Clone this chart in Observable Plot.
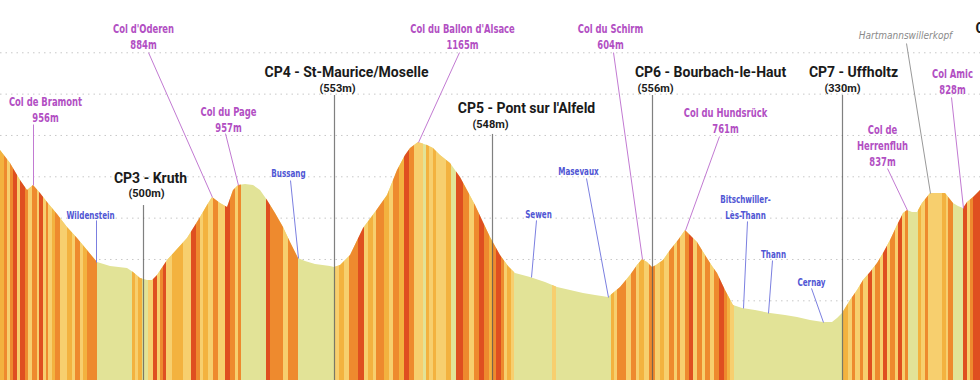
<!DOCTYPE html>
<html><head><meta charset="utf-8">
<script src="https://cdn.jsdelivr.net/npm/d3@7"></script>
<script src="https://cdn.jsdelivr.net/npm/@observablehq/plot@0.6"></script>
<style>body{margin:0;background:#fff} svg{display:block}</style>
</head><body><div id="chart"></div>
<script>
// ---- profile (distance km, elevation m) ----
const distKm = [0,1,2,2.7,3.3,4,4.7,5.7,6.7,7.7,8.7,9.7,11,12.7,13.3,14,14.7,15.2,15.7,16.7,17.7,18.7,20,20.7,21.2,22,22.7,23.3,23.8,24.5,25.3,26,26.7,27.5,28.3,29,29.8,30.5,31.5,33,33.4,34,35,36.3,37.5,38.7,39.7,40.5,41,41.8,42.7,43.3,44,45,46,46.7,47.5,48.2,49,50,50.8,51.5,53,54.5,55.7,57,58.3,59.5,60.8,61.4,62,63,63.7,64.2,64.7,65.2,65.6,66.3,67,67.8,68.5,69,69.7,70.5,71.2,71.7,72.5,73.3,74.2,75.5,77,78.5,79.7,81,82.3,83.2,83.7,84.2,85,85.7,86.3,87,87.7,88.3,89,89.7,90.3,90.7,91.2,91.7,92.2,93,94,94.5,94.9,95.3,95.8,96.3,96.7,97.3,98];
const elevM = [1127,1064,982,934,958,919,876,818,755,701,643,585,566,556,537,508,498,498,522,595,648,701,803,861,900,871,851,934,958,963,958,934,885,822,755,682,605,590,576,566,561,571,619,750,827,910,1030,1103,1137,1166,1151,1137,1103,1064,997,934,861,789,706,619,566,532,513,489,464,450,435,426,416,440,464,522,571,600,585,561,571,595,643,692,740,716,682,619,566,532,450,377,363,353,339,329,319,305,295,295,314,339,402,450,498,537,581,629,692,764,822,837,827,827,871,919,919,919,895,871,856,847,876,900,934];

// ---- slope stripes: [from km, to km, class 1..4] ----
const stripes = [
[0,0.4,2],[0.4,0.7,3],[0.7,1.0,1],[1.0,1.3,3],[1.3,1.7,4],[1.7,2.0,1],[2.0,2.5,4],[2.5,2.8,3],[2.8,3.2,1],[3.2,3.7,3],[3.7,3.9,1],[3.9,4.3,4],[4.3,4.6,1],[4.6,4.8,3],[4.8,5.2,1],[5.2,5.5,2],[5.5,6.0,3],[6.0,6.7,1],[6.7,7.2,2],[7.2,7.5,1],[7.5,8.0,3],[8.0,8.3,1],[8.3,8.7,2],[8.7,9.7,3],
[13.2,13.5,2],[13.5,13.8,1],[13.8,14.2,2],[14.8,15.3,1],[15.3,15.7,4],[15.7,16.0,1],[16.0,16.3,3],[16.3,16.6,4],[16.6,17.2,1],[17.2,18.3,2],[18.3,19.1,1],[19.1,19.6,4],[19.6,20.0,3],[20.0,20.3,1],[20.3,20.8,2],[20.8,21.3,1],[21.3,21.8,3],[21.8,22.5,1],[22.5,23.0,4],[23.0,23.5,3],[23.5,23.8,1],[23.8,24.1,3],
[26.6,27.0,4],[27.0,28.3,3],[28.3,28.8,1],[28.8,29.8,3],
[33.5,33.9,1],[33.9,34.4,2],[34.4,34.9,1],[34.9,35.8,3],[35.8,36.4,4],[36.4,36.8,1],[36.8,37.3,2],[37.3,37.6,1],[37.6,38.4,3],[38.4,38.9,2],[38.9,39.3,1],[39.3,39.9,3],[39.9,40.4,2],[40.4,40.9,4],[40.9,41.4,3],[41.4,42.3,1],[42.6,42.9,2],[42.9,43.3,1],[43.3,43.6,2],[43.6,44.6,1],[44.6,45.1,2],[45.6,46.3,4],[46.3,46.9,3],[46.9,47.4,1],[47.4,47.9,3],[47.9,48.4,4],[48.4,48.9,3],
[48.9,49.2,2],[49.2,49.6,3],[49.6,50.1,4],[50.1,50.4,3],[50.4,50.7,1],[50.7,51.1,2],[51.1,51.4,1],[55.2,55.6,1],[61.1,61.4,2],[61.4,61.7,1],[61.7,62.6,3],[62.6,63.1,1],[63.1,63.6,3],[63.6,63.9,1],[63.9,64.4,2],[64.4,64.9,1],[64.9,65.5,3],
[65.5,66.0,1],[66.0,66.4,2],[66.4,66.9,1],[66.9,67.4,3],[67.4,67.7,1],[67.7,68.0,3],[68.0,68.5,1],[68.5,68.9,3],[68.9,69.3,4],[69.3,69.7,1],[69.7,70.2,3],[70.2,70.5,1],[70.5,71.0,3],[71.0,71.4,1],[71.4,71.9,3],[71.9,72.4,4],[72.4,72.7,3],[72.7,73.0,2],[73.0,73.4,1],
[84.3,84.8,2],[84.8,85.2,1],[85.2,85.5,3],[85.5,86.0,1],[86.0,86.3,3],[86.3,86.8,1],[86.8,87.2,4],[87.2,87.5,1],[87.5,88.0,3],[88.0,88.3,1],[88.3,88.7,4],[88.7,89.0,1],[89.0,89.5,3],[89.5,89.8,1],[89.8,90.2,4],[90.2,90.5,1],[90.5,90.8,3],[91.8,92.1,2],[92.1,92.5,1],[92.5,92.8,3],[92.8,94.2,1],[94.2,94.6,2],[94.6,94.8,1],[94.8,95.3,3],[96.3,96.7,4],[96.7,97.0,1],[97.0,97.3,3],[97.3,98,4]
];

// ---- cols (passes) ----
const colText = ["Col de Bramont\n956m","Col d'Oderen\n884m","Col du Page\n957m","Col du Ballon d'Alsace\n1165m","Col du Schirm\n604m","Col du Hundsrück\n761m","Col de\nHerrenfluh\n837m","Col Amic\n828m"];
const colTextKm = [4.5,14.3,22.8,46.2,61.0,72.5,88.2,95.2];
const colTextElev = [1330,1684,1282,1684,1684,1277,1156,1466];
const colLineFrom = [[3.3,1253],[14.8,1601],[22.5,1209],[45.9,1601],[61.3,1601],[71.9,1195],[88.7,1040],[95.1,1384]];
const colLineTo = [[3.3,958],[21.2,900],[23.8,958],[41.8,1166],[64.2,600],[68.5,740],[90.7,837],[96.3,847]];

// ---- towns ----
const townText = ["Wildenstein","Bussang","Sewen","Masevaux","Bitschwiller-\nLès-Thann","Thann","Cernay"];
const townTextKm = [9.0,28.8,53.8,57.8,74.5,77.3,81.1];
const townTextElev = [822,1026,827,1035,861,634,498];
const townLineFrom = [[9.6,789],[29.0,982],[53.6,789],[58.6,992],[74.7,784],[77.2,595],[81.1,460]];
const townLineTo = [[9.6,585],[29.8,605],[53.1,513],[60.8,416],[74.3,363],[76.8,339],[82.3,295]];

// ---- checkpoints ----
const cpTitle = ["CP3 - Kruth","CP4 - St-Maurice/Moselle","CP5 - Pont sur l'Alfeld","CP6 - Bourbach-le-Haut","CP7 - Uffholtz"];
const cpAlt = ["(500m)","(553m)","(548m)","(556m)","(330m)"];
const cpKm = [14.3,33.4,49.2,65.2,84.2];
const cpTitleKm = [15.0,34.6,52.6,71.0,85.3];
const cpTitleElev = [992,1505,1330,1505,1505];
const cpAltKm = [14.6,33.7,49.0,65.5,84.2];
const cpAltElev = [919,1427,1253,1427,1427];
const cpLineTop = [861,1393,1205,1393,1393];

// ---- other ----
const summitText = ["Hartmannswillerkopf"];
const summitTextKm = [90.5], summitTextElev = [1684];
const summitLine = [[90.6,1645,93.0,919]];
const nextCp = ["CP8"]; const nextCpKm = [97.5], nextCpElev = [1717];
const gridElev = [200,400,600,800,1000,1200,1400,1600];

const palette = {1:"#f7cf6e",2:"#f3b23f",3:"#ee8a2e",4:"#df4f20"};
const pale = "#e2e397";
const condensed = "'DejaVu Sans Condensed','DejaVu Sans',sans-serif";

const profile = distKm.map((d,i)=>({km:d, elev:elevM[i]}));
const stripeData = stripes.map(([a,b,c])=>({x1:a,x2:b,c}));
const cols = colText.map((t,i)=>({t, x:colTextKm[i], y:colTextElev[i], x1:colLineFrom[i][0], y1:colLineFrom[i][1], x2:colLineTo[i][0], y2:colLineTo[i][1]}));
const towns = townText.map((t,i)=>({t, x:townTextKm[i], y:townTextElev[i], x1:townLineFrom[i][0], y1:townLineFrom[i][1], x2:townLineTo[i][0], y2:townLineTo[i][1]}));
const cps = cpTitle.map((t,i)=>({t, a:cpAlt[i], km:cpKm[i], tx:cpTitleKm[i], ty:cpTitleElev[i], ax:cpAltKm[i], ay:cpAltElev[i], top:cpLineTop[i]}));
const YMIN = 14.5, YMAX = 1853;

const svg = Plot.plot({
  width: 980, height: 380, margin: 0,
  x: {domain: [0, 98], axis: null},
  y: {domain: [YMIN, YMAX], axis: null},
  marks: [
    Plot.ruleY(gridElev, {stroke: "#c8c8c8", strokeDasharray: "1.5,4", strokeWidth: 1}),
    Plot.areaY(profile, {x: "km", y: "elev", fill: pale}),
    Plot.rect(stripeData, {x1: "x1", x2: "x2", y1: YMIN, y2: YMAX, fill: d => palette[d.c]}),
    Plot.ruleX(cps, {x: "km", y1: "top", y2: YMIN, stroke: "#555", strokeOpacity: 0.75, strokeWidth: 1.2}),
    Plot.link(cols, {x1: "x1", y1: "y1", x2: "x2", y2: "y2", stroke: "#c27ad2", strokeWidth: 1}),
    Plot.link(towns, {x1: "x1", y1: "y1", x2: "x2", y2: "y2", stroke: "#7b7fe0", strokeWidth: 1}),
    Plot.link(summitLine, {x1: d=>d[0], y1: d=>d[1], x2: d=>d[2], y2: d=>d[3], stroke: "#999", strokeWidth: 1}),
    Plot.text(cols, {x: "x", y: "y", text: "t", fill: "#b24fc3", fontSize: 12, fontWeight: "bold", fontFamily: condensed, lineHeight: 1.35}),
    Plot.text(towns, {x: "x", y: "y", text: "t", fill: "#5056d4", fontSize: 10, fontWeight: "bold", fontFamily: condensed, lineHeight: 1.6}),
    Plot.text(summitText, {x: summitTextKm, y: summitTextElev, text: d=>d, fill: "#8a8a8a", fontSize: 10, fontStyle: "italic", fontFamily: condensed}),
    Plot.text(cps, {x: "tx", y: "ty", text: "t", fill: "#1a1a1a", fontSize: 14, fontWeight: "bold", fontFamily: "Roboto, sans-serif"}),
    Plot.text(cps, {x: "ax", y: "ay", text: "a", fill: "#1a1a1a", fontSize: 11, fontWeight: "bold", fontFamily: "Roboto, sans-serif"}),
    Plot.text(nextCp, {x: nextCpKm, y: nextCpElev, text: d=>d, textAnchor: "start", fill: "#1a1a1a", fontSize: 14, fontWeight: "bold", fontFamily: "Roboto, sans-serif"})
  ]
});

// clip the slope stripes to the profile area
const ns = "http://www.w3.org/2000/svg";
const areaG = svg.querySelector('g[aria-label="area"]');
const areaPath = areaG.querySelector('path');
const rectG = svg.querySelector('g[aria-label="rect"]');
const defs = document.createElementNS(ns, "defs");
const clip = document.createElementNS(ns, "clipPath");
clip.setAttribute("id", "profile-clip");
const cpPath = document.createElementNS(ns, "path");
cpPath.setAttribute("d", areaPath.getAttribute("d"));
clip.appendChild(cpPath); defs.appendChild(clip);
svg.insertBefore(defs, svg.firstChild);
rectG.setAttribute("clip-path", "url(#profile-clip)");

// condensed look for the label typefaces (horizontal squeeze around each anchor)
function squeeze(g, k) {
  g.querySelectorAll("text").forEach(t => {
    let tr = t.getAttribute("transform");
    if (!tr) {
      const x = +t.getAttribute("x") || 0, y = +t.getAttribute("y") || 0;
      t.removeAttribute("x"); t.removeAttribute("y");
      tr = `translate(${x},${y})`;
    }
    t.setAttribute("transform", tr + ` scale(${k},1)`);
  });
}
const textGroups = svg.querySelectorAll('g[aria-label="text"]');
squeeze(textGroups[0], 0.78);
squeeze(textGroups[1], 0.8);

document.getElementById("chart").appendChild(svg);
</script>
</body></html>
